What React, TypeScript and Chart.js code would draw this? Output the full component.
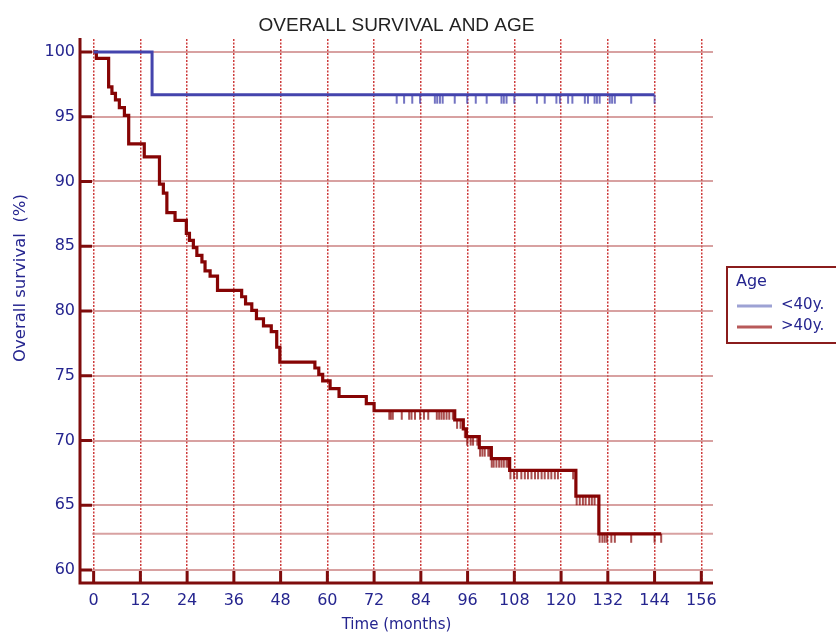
import React, { useEffect, useRef } from "react";
import { Chart, registerables } from "chart.js";

Chart.register(...registerables);

// ---------- text ----------
const chartTitle = "OVERALL SURVIVAL AND AGE";
const xAxisTitle = "Time (months)";
const yAxisTitle = "Overall survival  (%)";
const legendTitle = "Age";
const seriesNames = ["<40y.", ">40y."];

// ---------- axes ----------
const xTickValues = [0, 12, 24, 36, 48, 60, 72, 84, 96, 108, 120, 132, 144, 156];
const yTickValues = [60, 65, 70, 75, 80, 85, 90, 95, 100];
const xRange = [-3.5, 159];
const yRange = [59, 101];

// ---------- series: age < 40 ----------
const youngTimes = [0, 15.0, 144.0];
const youngSurvival = [100, 96.7, 96.7];
const youngCensored = [
  77.8, 79.7, 81.8, 83.8, 87.6, 88.2, 88.9, 89.6, 92.7, 95.9, 98.1, 100.9,
  104.7, 105.3, 106.0, 108.0, 113.8, 115.8, 118.8, 119.7, 121.8, 122.9, 126.1,
  126.9, 128.6, 129.2, 129.9, 132.5, 133.1, 133.8, 138.0, 144.0,
];

// ---------- series: age > 40 ----------
const olderTimes = [
  0, 0.7, 3.85, 4.7, 5.6, 6.6, 7.9, 9.0, 13.0, 16.9, 17.9, 18.8, 20.9, 23.8,
  24.6, 25.6, 26.5, 27.8, 28.6, 29.9, 31.8, 38.0, 39.0, 40.6, 41.8, 43.6, 45.6,
  47.0, 47.8, 56.8, 57.8, 58.8, 60.7, 63.0, 70.0, 72.0, 92.7, 94.9, 95.7, 99.0,
  102.1, 106.8, 123.8, 129.7, 145.7,
];
const olderSurvival = [
  100, 99.5, 97.3, 96.8, 96.3, 95.7, 95.1, 92.9, 91.9, 89.8, 89.1, 87.6, 87.0,
  86.0, 85.45, 84.9, 84.3, 83.8, 83.1, 82.7, 81.6, 81.1, 80.55, 80.05, 79.4,
  78.85, 78.4, 77.2, 76.05, 75.6, 75.1, 74.6, 74.0, 73.4, 72.85, 72.3, 71.6,
  70.9, 70.3, 69.45, 68.6, 67.7, 65.7, 62.8, 62.8,
];
const olderCensored = [
  75.9, 76.3, 76.8, 79.1, 81.0, 81.6, 82.5, 83.8, 84.8, 85.9, 88.1, 88.7, 89.3,
  89.9, 90.6, 91.3, 92.2, 93.3, 94.2, 95.3, 95.9, 96.8, 97.4, 98.5, 99.2, 99.8,
  100.4, 101.3, 101.7, 102.2, 102.7, 103.4, 104.1, 104.7, 105.3, 106.0, 106.4,
  107.0, 107.9, 108.7, 109.8, 110.7, 111.5, 112.4, 113.3, 114.1, 115.0, 115.8,
  116.7, 117.5, 118.4, 119.2, 123.1, 124.0, 124.8, 125.6, 126.3, 127.2, 127.9,
  128.6, 129.9, 130.6, 131.2, 131.8, 132.9, 133.8, 138.0, 144.0, 145.7,
];
const referenceLevel = 62.8;

// ---------- styles ----------
const COL = {
  axis: "#7f0c0c",
  text: "#25258f",
  hGrid: "rgba(195,110,110,0.65)",
  vGrid: "rgb(205,60,60)",
  red: "#860404",
  blue: "#4444ad",
  redCensor: "rgba(134,4,4,0.7)",
  blueCensor: "rgba(68,68,173,0.75)",
  legendBlue: "#9da2d4",
  legendRed: "#b85a5a",
  legendBorder: "#8a1c1c",
};
const FONT = "'DejaVu Sans', sans-serif";

function survivalAt(times: number[], surv: number[], t: number): number {
  let s = surv[0];
  for (let i = 0; i < times.length; i++) if (times[i] <= t) s = surv[i];
  return s;
}

const kmPlugin = {
  id: "kmExtras",
  beforeDatasetsDraw(chart: any) {
    const { ctx, chartArea, scales } = chart;
    const x = scales.x, y = scales.y;
    const yy = y.getPixelForValue(referenceLevel);
    ctx.save();
    ctx.strokeStyle = COL.hGrid;
    ctx.lineWidth = 2;
    ctx.beginPath();
    ctx.moveTo(x.getPixelForValue(-0.4), yy);
    ctx.lineTo(chartArea.right, yy);
    ctx.stroke();
    ctx.restore();
  },
  afterDatasetsDraw(chart: any) {
    const { ctx, scales } = chart;
    const x = scales.x, y = scales.y;
    const groups = [
      { times: youngTimes, surv: youngSurvival, cens: youngCensored, color: COL.blueCensor },
      { times: olderTimes, surv: olderSurvival, cens: olderCensored, color: COL.redCensor },
    ];
    ctx.save();
    ctx.lineWidth = 2;
    for (const g of groups) {
      ctx.strokeStyle = g.color;
      for (const t of g.cens) {
        const px = x.getPixelForValue(t);
        const py = y.getPixelForValue(survivalAt(g.times, g.surv, t));
        ctx.beginPath();
        ctx.moveTo(px, py);
        ctx.lineTo(px, py + 9);
        ctx.stroke();
      }
    }
    ctx.restore();
  },
  afterDraw(chart: any) {
    const { ctx, chartArea, scales } = chart;
    const x = scales.x, y = scales.y;
    const { left, right, top, bottom } = chartArea;
    ctx.save();
    // axis lines
    ctx.strokeStyle = COL.axis;
    ctx.lineWidth = 3;
    ctx.lineCap = "butt";
    ctx.beginPath();
    ctx.moveTo(left, top - 1);
    ctx.lineTo(left, bottom + 1.5);
    ctx.moveTo(left - 1.5, bottom);
    ctx.lineTo(right, bottom);
    ctx.stroke();
    // inward ticks
    ctx.beginPath();
    for (const v of yTickValues) {
      const py = y.getPixelForValue(v);
      ctx.moveTo(left, py);
      ctx.lineTo(left + 12, py);
    }
    for (const v of xTickValues) {
      const px = x.getPixelForValue(v);
      ctx.moveTo(px, bottom);
      ctx.lineTo(px, bottom - 12);
    }
    ctx.stroke();

    // y axis title
    ctx.save();
    ctx.translate(21, 278);
    ctx.rotate(-Math.PI / 2);
    ctx.fillStyle = COL.text;
    ctx.font = `16.5px ${FONT}`;
    ctx.textAlign = "center";
    ctx.textBaseline = "middle";
    ctx.fillText(yAxisTitle, 0, 0);
    ctx.restore();

    // legend
    const lx = 727, ly = 267;
    ctx.lineWidth = 2;
    ctx.strokeStyle = COL.legendBorder;
    ctx.strokeRect(lx, ly, 140, 76);
    ctx.fillStyle = COL.text;
    ctx.textBaseline = "middle";
    ctx.textAlign = "left";
    ctx.font = `16px ${FONT}`;
    ctx.fillText(legendTitle, lx + 9, ly + 15);
    ctx.font = `15px ${FONT}`;
    const rows = [
      { name: seriesNames[0], color: COL.legendBlue, yy: ly + 39 },
      { name: seriesNames[1], color: COL.legendRed, yy: ly + 60 },
    ];
    for (const r of rows) {
      ctx.strokeStyle = r.color;
      ctx.lineWidth = 3;
      ctx.beginPath();
      ctx.moveTo(lx + 10, r.yy);
      ctx.lineTo(lx + 45, r.yy);
      ctx.stroke();
      ctx.fillStyle = COL.text;
      ctx.fillText(r.name, lx + 54, r.yy - 1);
    }
    ctx.restore();
  },
};

export default function App() {
  const ref = useRef<HTMLCanvasElement | null>(null);

  useEffect(() => {
    document.body.style.margin = "0";
    const canvas = ref.current;
    if (!canvas) return;
    const chart = new Chart(canvas, {
      type: "line",
      data: {
        datasets: [
          {
            label: seriesNames[0],
            data: youngTimes.map((t, i) => ({ x: t, y: youngSurvival[i] })),
            borderColor: COL.blue,
            borderWidth: 3,
            pointRadius: 0,
            stepped: "before",
            fill: false,
          },
          {
            label: seriesNames[1],
            data: olderTimes.map((t, i) => ({ x: t, y: olderSurvival[i] })),
            borderColor: COL.red,
            borderWidth: 3.2,
            pointRadius: 0,
            stepped: "before",
            fill: false,
          },
        ],
      },
      options: {
        responsive: false,
        animation: false,
        events: [],
        layout: { padding: { left: 0, right: 123, top: 0, bottom: 0 } },
        plugins: {
          legend: { display: false },
          tooltip: { enabled: false },
          title: {
            display: true,
            text: chartTitle,
            fullSize: false,
            color: "#222222",
            font: { family: "'Liberation Sans', sans-serif", size: 19, weight: "normal", lineHeight: 1.2 },
            padding: { top: 14, bottom: 2.2 },
          },
        },
        scales: {
          x: {
            type: "linear",
            min: xRange[0],
            max: xRange[1],
            afterBuildTicks: (s: any) => {
              s.ticks = xTickValues.map((v) => ({ value: v }));
            },
            afterFit: (s: any) => {
              s.height = 50;
            },
            grid: { color: COL.vGrid, lineWidth: 1.5, drawTicks: false },
            border: { display: false, dash: [2, 1.5] },
            ticks: {
              color: COL.text,
              font: { family: FONT, size: 16 },
              padding: 8,
              maxRotation: 0,
              autoSkip: false,
            },
            title: {
              display: true,
              text: xAxisTitle,
              color: COL.text,
              font: { family: FONT, size: 15, lineHeight: 1 },
              padding: { top: 0, bottom: 0 },
            },
          },
          y: {
            type: "linear",
            min: yRange[0],
            max: yRange[1],
            afterBuildTicks: (s: any) => {
              s.ticks = yTickValues.map((v) => ({ value: v }));
            },
            afterFit: (s: any) => {
              s.width = 80;
            },
            grid: { color: COL.hGrid, lineWidth: 2, drawTicks: false },
            border: { display: false },
            ticks: {
              color: COL.text,
              font: { family: FONT, size: 16 },
              padding: 5,
              autoSkip: false,
            },
          },
        },
      },
      plugins: [kmPlugin],
    } as any);
    return () => chart.destroy();
  }, []);

  return (
    <div style={{ width: 836, height: 633 }}>
      <canvas ref={ref} width={836} height={633} style={{ display: "block" }} />
    </div>
  );
}
